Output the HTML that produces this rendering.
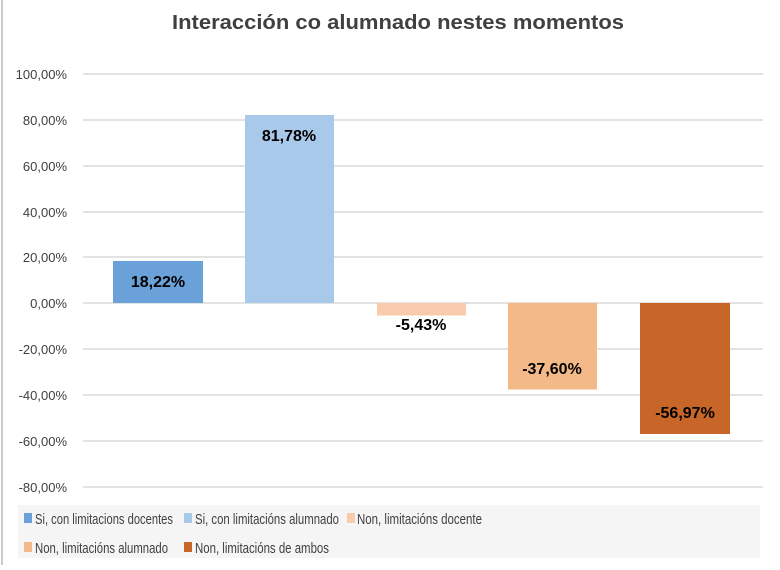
<!DOCTYPE html>
<html><head><meta charset="utf-8"><style>
body{margin:0;background:#fff;}
svg text{font-family:"Liberation Sans",sans-serif;}
</style></head><body>
<svg width="780" height="565" xmlns="http://www.w3.org/2000/svg">
<rect x="0" y="0" width="780" height="565" fill="#fff"/>
<line x1="2" y1="0" x2="2" y2="565" stroke="#bbb" stroke-width="1.5"/>
<text x="172" y="29" textLength="452" lengthAdjust="spacingAndGlyphs" font-size="20" font-weight="bold" fill="#404040">Interacción co alumnado nestes momentos</text>
<g stroke="#d9d9d9" stroke-width="1.5">
<line x1="83" y1="74" x2="763" y2="74"/>
<line x1="83" y1="120" x2="763" y2="120"/>
<line x1="83" y1="166" x2="763" y2="166"/>
<line x1="83" y1="212" x2="763" y2="212"/>
<line x1="83" y1="257" x2="763" y2="257"/>
<line x1="83" y1="303" x2="763" y2="303"/>
<line x1="83" y1="349" x2="763" y2="349"/>
<line x1="83" y1="395" x2="763" y2="395"/>
<line x1="83" y1="441" x2="763" y2="441"/>
<line x1="83" y1="487" x2="763" y2="487"/>
</g>
<g font-size="13" fill="#404040" text-anchor="end">
<text x="67" y="79">100,00%</text>
<text x="67" y="125">80,00%</text>
<text x="67" y="171">60,00%</text>
<text x="67" y="217">40,00%</text>
<text x="67" y="262">20,00%</text>
<text x="67" y="308">0,00%</text>
<text x="67" y="354">-20,00%</text>
<text x="67" y="400">-40,00%</text>
<text x="67" y="446">-60,00%</text>
<text x="67" y="492">-80,00%</text>
</g>
<rect x="113" y="261" width="90" height="42" fill="#6aa1d8"/>
<rect x="245" y="115" width="89" height="188" fill="#a9c9ea"/>
<rect x="377" y="303" width="89" height="12.5" fill="#f8cbad"/>
<rect x="508" y="303" width="89" height="86.5" fill="#f4b989"/>
<rect x="640" y="303" width="90" height="131" fill="#c8662a"/>
<g font-size="16" font-weight="bold" fill="#000" text-anchor="middle">
<text x="158" y="287">18,22%</text>
<text x="289" y="141">81,78%</text>
<text x="421" y="330">-5,43%</text>
<text x="552" y="374">-37,60%</text>
<text x="685" y="418">-56,97%</text>
</g>
<rect x="18" y="505" width="742" height="53" fill="#f5f5f5"/>
<g font-size="15" fill="#404040">
<rect x="24" y="513" width="8" height="10" fill="#6aa1d8"/><text x="35" y="524" textLength="138" lengthAdjust="spacingAndGlyphs">Si, con limitacions docentes</text>
<rect x="184" y="513" width="8" height="10" fill="#a9c9ea"/><text x="195" y="524" textLength="144" lengthAdjust="spacingAndGlyphs">Si, con limitacións alumnado</text>
<rect x="347" y="513" width="8" height="10" fill="#f8cbad"/><text x="357" y="524" textLength="125" lengthAdjust="spacingAndGlyphs">Non, limitacións docente</text>
<rect x="24" y="542" width="8" height="10" fill="#f4b989"/><text x="35" y="553" textLength="133" lengthAdjust="spacingAndGlyphs">Non, limitacións alumnado</text>
<rect x="184" y="542" width="8" height="10" fill="#c8662a"/><text x="195" y="553" textLength="134" lengthAdjust="spacingAndGlyphs">Non, limitacións de ambos</text>
</g>
</svg>
</body></html>
